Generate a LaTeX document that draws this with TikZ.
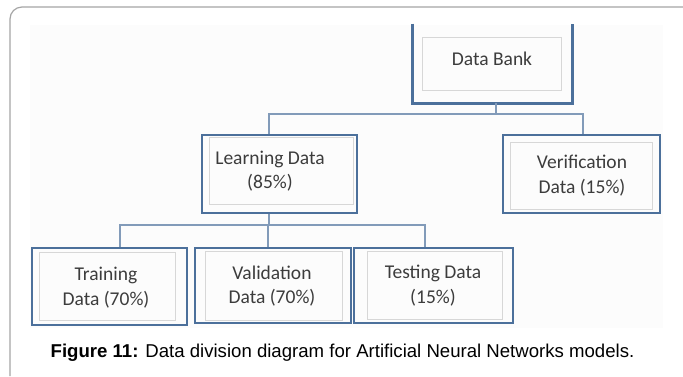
\documentclass[tikz,border=0pt]{standalone}
\usepackage{fontspec}
\setmainfont{Liberation Sans}
\newfontfamily\boxfont{Carlito}
\usepackage{tikz}
\definecolor{boxblue}{RGB}{76,112,155}
\definecolor{linkblue}{RGB}{130,155,185}
\definecolor{innergray}{RGB}{215,215,215}
\definecolor{textgray}{RGB}{60,60,60}
\definecolor{framegray}{RGB}{165,165,165}

\begin{document}
\begin{tikzpicture}[x=1pt,y=-1pt,
    outer/.style={draw=boxblue,line width=2.8pt,minimum width=156pt,minimum height=77pt,inner sep=0pt},
    inner/.style={draw=innergray,line width=0.8pt,inner sep=0pt},
    link/.style={draw=linkblue,line width=2.3pt},
    label/.style={text=textgray,font=\boxfont\fontsize{19.5}{24.5}\selectfont,align=center}]
	\useasboundingbox (0,0) rectangle (683,376);
	\fill[white] (0,0) rectangle (683,376);
	\fill[black!1] (30,25) rectangle (663,328);
	\draw[framegray,line width=1.2pt,rounded corners=12pt] (10,376) -- (10,7) -- (683,7);
	% top level
	\node[outer,draw=none,minimum width=157pt] (bank) at (492.5,63.5) {};
	\draw[boxblue,line width=2.8pt] (bank.north west) -- (bank.south west) -- (bank.south east) -- (bank.north east);
	\node[inner,minimum width=139pt,minimum height=53pt] (bankin) at (491.5,63.5) {};
	\node[label] (banktxt) at (492,59) {Data Bank};
	% second level
	\node[outer,minimum width=155pt,minimum height=78pt] (learn) at (279.5,174) {};
	\node[inner,minimum width=144pt,minimum height=67pt] (learnin) at (281,170.5) {};
	\node[label] (learntxt) at (270,171) {Learning Data\\(85\%)};
	\node[outer,minimum width=157pt,minimum height=78pt] (verif) at (581.5,174) {};
	\node[inner,minimum width=142pt,minimum height=67pt] (verifin) at (581,175.5) {};
	\node[label] (veriftxt) at (582,175.5) {Verification\\Data (15\%)};
	% third level
	\node[outer,minimum width=155pt] (train) at (109.5,286.5) {};
	\node[inner,minimum width=136pt,minimum height=68pt] (trainin) at (107,286) {};
	\node[label] (traintxt) at (106,287.5) {Training\\Data (70\%)};
	\node[outer,minimum width=156pt,minimum height=75pt] (valid) at (273,285.5) {};
	\node[inner,minimum width=137pt,minimum height=69pt] (validin) at (273.5,285.5) {};
	\node[label] (validtxt) at (272,286) {Validation\\Data (70\%)};
	\node[outer,minimum width=159pt,minimum height=75pt] (test) at (433.5,285.5) {};
	\node[inner,minimum width=135pt,minimum height=68pt] (testin) at (434.5,285) {};
	\node[label] (testtxt) at (433,285.5) {Testing Data\\(15\%)};
	% connectors
	\coordinate (bus1) at (496,114);
	\coordinate (bus2) at (269,225);
	\draw[link] ([xshift=3.5pt]bank.south) -- (bus1);
	\draw[link] ([xshift=-10.5pt]learn.north) |- (bus1) -| ([xshift=1.5pt]verif.north);
	\draw[link] ([xshift=-10.5pt]learn.south) -- (bus2);
	\draw[link] ([xshift=10.5pt]train.north) |- (bus2) -| ([xshift=-8.5pt]test.north);
	\draw[link] ([xshift=-5pt]valid.north) -- ([xshift=-5pt]valid.north |- bus2);
	% caption
	\node[inner sep=0pt,font=\fontsize{18.6}{22}\selectfont] (caption) at (342.5,353) {\textbf{Figure 11:} Data division diagram for Artificial Neural Networks models.};
\end{tikzpicture}
\end{document}
